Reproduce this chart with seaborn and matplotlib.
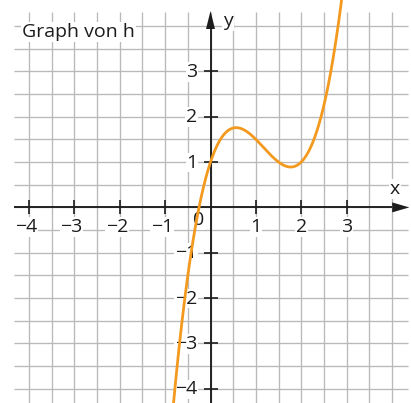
import numpy as np
import pandas as pd
import matplotlib
matplotlib.use("Agg")
import matplotlib.pyplot as plt
from matplotlib.patches import Polygon
import seaborn as sns

# h(x) = x^3 - 3.5x^2 + 3x + 1  (coefficients, highest power first)
h_coeffs = [1.0, -3.5, 3.0, 1.0]
x_ticks = [-4, -3, -2, -1, 1, 2, 3]
y_ticks = [-4, -3, -2, -1, 1, 2, 3]
title_text = "Graph von h"

sns.set_theme(style="white")
plt.rcParams["font.family"] = ["Open Sans", "DejaVu Sans"]

W, H, DPI = 411, 403, 100
UNIT = 45.36           # pixels per unit
X0, Y0 = 210.5, 207.4  # pixel position of the origin

fig = plt.figure(figsize=(W / DPI, H / DPI), dpi=DPI)
ax = fig.add_axes([0, 0, 1, 1])

def px(n):
    return n / UNIT

grid_col = "#b9b9b9"
ink = "#1c1c1c"
orange = "#f39a1e"

# squared paper
gx_min, gx_max = -4.33, 4.35
gy_min, gy_max = -(H - Y0) / UNIT, 4.31
steps = np.arange(-8, 9) / 2
ax.vlines(steps, gy_min, gy_max, color=grid_col, lw=0.95, zorder=1)
ax.hlines(steps, gx_min, gx_max, color=grid_col, lw=0.95, zorder=1)

# coordinate axes with arrow heads
ax.plot([gx_min, 4.38 - px(17)], [0, 0], color=ink, lw=1.35, zorder=3,
        solid_capstyle="butt")
ax.plot([0, 0], [gy_min, 4.33 - px(18)], color=ink, lw=1.35, zorder=3,
        solid_capstyle="butt")
ax.add_patch(Polygon([[4.38, 0], [4.38 - px(17), px(5)], [4.38 - px(17), -px(5)]],
                     closed=True, color=ink, zorder=3, lw=0))
ax.add_patch(Polygon([[0, 4.33], [-px(4.5), 4.33 - px(18)], [px(4.5), 4.33 - px(18)]],
                     closed=True, color=ink, zorder=3, lw=0))

# tick marks
tl = px(7)
ax.vlines(x_ticks, -tl, tl, color=ink, lw=1.2, zorder=3)
ax.hlines(y_ticks, -tl, tl, color=ink, lw=1.2, zorder=3)

fs = 14
box = dict(facecolor="white", edgecolor="none", pad=0.6)

def lab(v):
    return f"\u2212{abs(v)}" if v < 0 else f"{v}"

for v in x_ticks:
    shift = -3 if v < 0 else 0
    ax.annotate(lab(v), (v, 0), xytext=(shift, -19.5), textcoords="offset pixels",
                ha="center", va="center", fontsize=fs, color=ink, bbox=box, zorder=4)
for v in y_ticks:
    ax.annotate(lab(v), (0, v), xytext=(-13, -0.5), textcoords="offset pixels",
                ha="right", va="center", fontsize=fs, color=ink, bbox=box, zorder=4)
ax.annotate("0", (0, 0), xytext=(-11.5, -13), textcoords="offset pixels",
            ha="center", va="center", fontsize=fs, color=ink, bbox=box, zorder=4)

ax.text(px(395 - X0), px(Y0 - 189), "x", ha="center", va="center",
        fontsize=fs, color=ink, bbox=box, zorder=4)
ax.text(px(228 - X0), px(Y0 - 21), "y", ha="center", va="center",
        fontsize=fs, color=ink, bbox=box, zorder=4)
ax.text(px(22 - X0), px(Y0 - 37), title_text, ha="left", va="baseline",
        fontsize=fs, color=ink, bbox=box, zorder=4)

# the graph of h
xs = np.linspace(-0.9, 2.95, 600)
df = pd.DataFrame({"x": xs, "y": np.polyval(h_coeffs, xs)})
sns.lineplot(data=df, x="x", y="y", ax=ax, color=orange, lw=2.0, zorder=5,
             sort=False, estimator=None)
ax.set_xlim(-X0 / UNIT, (W - X0) / UNIT)
ax.set_ylim(-(H - Y0) / UNIT, Y0 / UNIT)
ax.set_axis_off()

fig.savefig("out.png", dpi=DPI)
